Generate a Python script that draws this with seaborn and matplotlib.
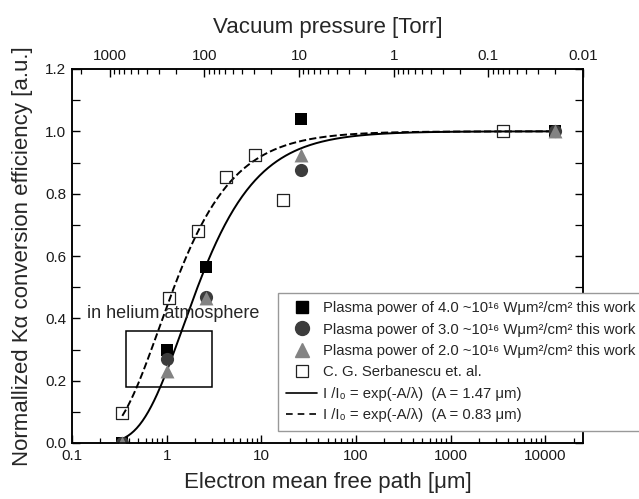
import numpy as np
import pandas as pd
import matplotlib
matplotlib.use("Agg")
import matplotlib.pyplot as plt
from matplotlib.lines import Line2D
from matplotlib.patches import Rectangle
from matplotlib.ticker import FuncFormatter, LogLocator, MultipleLocator, NullFormatter
import seaborn as sns

# ---- data ----
work_x = [0.34, 1.0, 2.6, 26.0, 12500.0]
p40_y = [0.0, 0.30, 0.565, 1.04, 1.0]
p30_y = [0.0, 0.27, 0.47, 0.875, 1.0]
p20_y = [0.0, 0.23, 0.465, 0.925, 1.0]

serb_x = [0.34, 1.07, 2.13, 4.27, 8.6, 17.1, 3600.0]
serb_y = [0.095, 0.465, 0.68, 0.855, 0.925, 0.78, 1.0]

fit_A = [1.47, 0.83]          # um, from the legend formula I/I0 = exp(-A/lambda)
fit_start = [0.34, 0.34]
fit_end = 12500.0

pressure_ticks = [1000, 100, 10, 1, 0.1, 0.01]
K_torr_um = 250.0             # lambda * P  (um * Torr) relation between the two axes

legend_labels = [
    "Plasma power of 4.0 ~10¹⁶ Wμm²/cm² this work",
    "Plasma power of 3.0 ~10¹⁶ Wμm²/cm² this work",
    "Plasma power of 2.0 ~10¹⁶ Wμm²/cm² this work",
    "C. G. Serbanescu et. al.",
    "I /I₀ = exp(-A/λ)  (A = 1.47 μm)",
    "I /I₀ = exp(-A/λ)  (A = 0.83 μm)",
]

# ---- style ----
sns.set_theme(style="ticks")
plt.rcParams["font.family"] = ["Liberation Sans", "DejaVu Sans"]
plt.rcParams["axes.linewidth"] = 1.1

fig = plt.figure(figsize=(6.39, 4.99), dpi=100)
ax = fig.add_axes([72 / 639, 1 - 443 / 499, (583 - 72) / 639, (443 - 69) / 499])
ax.set_facecolor("white")

# fit curves
for A, x0, ls in zip(fit_A, fit_start, ["-", "--"]):
    xs = np.logspace(np.log10(x0), np.log10(fit_end), 300)
    df = pd.DataFrame({"x": xs, "y": np.exp(-A / xs)})
    sns.lineplot(data=df, x="x", y="y", ax=ax, color="black", lw=1.4,
                 linestyle=ls, dashes=False if ls == "-" else (4, 3), zorder=2)

# rectangle annotation
ax.add_patch(Rectangle((0.37, 0.18), 3.0 - 0.37, 0.36 - 0.18, fill=False,
                       edgecolor="black", lw=1.1, zorder=1))
ax.text(0.143, 0.415, "in helium atmosphere", fontsize=13, va="center", ha="left")

# markers
ms = 80
sns.scatterplot(x=serb_x, y=serb_y, ax=ax, marker="s", s=75, facecolor="none",
                edgecolor="#222222", linewidth=0.9, zorder=3)
sns.scatterplot(x=work_x, y=p40_y, ax=ax, marker="s", s=ms, color="black",
                edgecolor="black", linewidth=0, zorder=4)
sns.scatterplot(x=work_x, y=p30_y, ax=ax, marker="o", s=ms + 10, color="#3c3c3c",
                edgecolor="#3c3c3c", linewidth=0, zorder=5)
sns.scatterplot(x=work_x, y=p20_y, ax=ax, marker="^", s=ms + 20, color="#838383",
                edgecolor="#838383", linewidth=0, zorder=6)

# bottom axis
ax.set_xscale("log")
ax.set_xlim(0.1, K_torr_um / 0.01)
ax.set_ylim(0, 1.2)
ax.xaxis.set_major_locator(LogLocator(base=10, numticks=20))
ax.xaxis.set_minor_locator(LogLocator(base=10, subs=np.arange(2, 10), numticks=50))
ax.xaxis.set_major_formatter(FuncFormatter(lambda v, p: "%g" % v))
ax.xaxis.set_minor_formatter(NullFormatter())
ax.yaxis.set_major_locator(MultipleLocator(0.2))
ax.yaxis.set_minor_locator(MultipleLocator(0.1))
ax.yaxis.set_major_formatter(FuncFormatter(lambda v, p: "%.1f" % v))
ax.tick_params(which="both", direction="in", right=True, top=False, labelsize=11,
               color="black", labelcolor="#1a1a1a")
ax.tick_params(which="major", length=6, width=1.0, pad=4)
ax.tick_params(which="minor", length=3.5, width=0.9)
ax.tick_params(axis="y", which="minor", length=6)
ax.set_xlabel("Electron mean free path [μm]", fontsize=16, labelpad=7)
ax.set_ylabel("Normallized Kα conversion efficiency [a.u.]", fontsize=16, labelpad=9)
for s in ax.spines.values():
    s.set_color("black")

# top axis (pressure)
ax2 = ax.twiny()
ax2.set_xscale("log")
ax2.set_xlim(K_torr_um / 0.1, K_torr_um / (K_torr_um / 0.01))
ax2.set_xticks(pressure_ticks)
ax2.xaxis.set_minor_locator(LogLocator(base=10, subs=np.arange(2, 10), numticks=50))
ax2.xaxis.set_major_formatter(FuncFormatter(lambda v, p: "%g" % v))
ax2.xaxis.set_minor_formatter(NullFormatter())
ax2.tick_params(which="both", direction="in", labelsize=11, color="black",
                labelcolor="#1a1a1a")
ax2.tick_params(which="major", length=6, width=1.0, pad=4)
ax2.tick_params(which="minor", length=3.5, width=0.9)
ax2.set_xlabel("Vacuum pressure [Torr]", fontsize=16, labelpad=12)
for s in ax2.spines.values():
    s.set_color("black")

# legend
handles = [
    Line2D([], [], ls="none", marker="s", ms=9, color="black", mec="black"),
    Line2D([], [], ls="none", marker="o", ms=10, color="#3c3c3c", mec="#3c3c3c"),
    Line2D([], [], ls="none", marker="^", ms=10, color="#838383", mec="#838383"),
    Line2D([], [], ls="none", marker="s", ms=9, mfc="white", mec="#222222", mew=0.9),
    Line2D([], [], ls="-", color="black", lw=1.2),
    Line2D([], [], ls=(0, (4, 3)), color="black", lw=1.2),
]
leg = ax2.legend(handles, legend_labels, loc="upper left",
                 bbox_to_anchor=(278 / 639, 1 - 293 / 499),
                 bbox_transform=fig.transFigure, borderaxespad=0, borderpad=0.55,
                 fontsize=10.7, frameon=True, fancybox=False, handlelength=2.1,
                 handletextpad=0.4, labelspacing=0.5)
leg.get_frame().set_edgecolor("#999999")
leg.get_frame().set_linewidth(1.0)
leg.get_frame().set_facecolor("white")
leg.get_frame().set_alpha(1)

fig.savefig("out.png", dpi=100)
